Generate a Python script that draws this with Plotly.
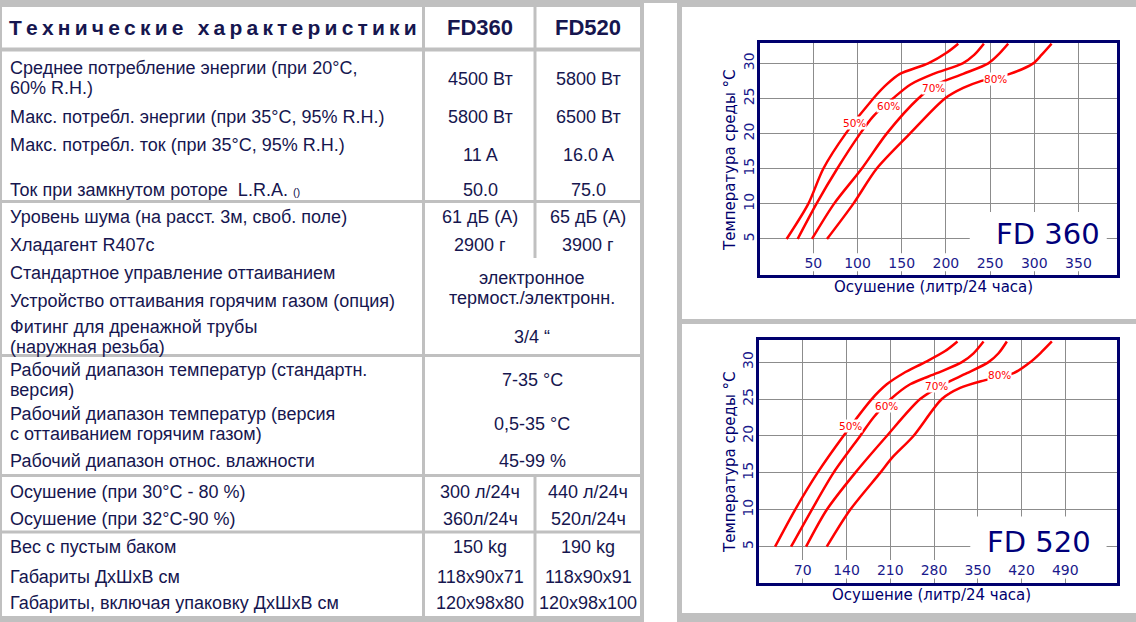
import plotly.graph_objects as go

# ---- table data ----
header_title = "Технические характеристики"
models = ["FD360", "FD520"]

row_labels = [
    "Среднее потребление энергии (при 20°С,<br>60% R.H.)",
    "Макс. потребл. энергии (при 35°С, 95% R.H.)",
    "Макс. потребл. ток (при 35°С, 95% R.H.)",
    "Ток при замкнутом роторе \u00a0L.R.A. <span style='font-size:11px'>()</span>",
    "Уровень шума (на расст. 3м, своб. поле)",
    "Хладагент R407c",
    "Стандартное управление оттаиванием",
    "Устройство оттаивания горячим газом (опция)",
    "Фитинг для дренажной трубы<br>(наружная резьба)",
    "Рабочий диапазон температур (стандартн.<br>версия)",
    "Рабочий диапазон температур (версия<br>с оттаиванием горячим газом)",
    "Рабочий диапазон относ. влажности",
    "Осушение (при 30°С - 80 %)",
    "Осушение (при 32°С-90 %)",
    "Вес с пустым баком",
    "Габариты ДхШхВ см",
    "Габариты, включая упаковку ДхШхВ см",
]
fd360_values = ["4500 Вт", "5800 Вт", "11 A", "50.0", "61 дБ (А)", "2900 г",
                "300 л/24ч", "360л/24ч", "150 kg", "118x90x71", "120x98x80"]
fd520_values = ["5800 Вт", "6500 Вт", "16.0 A", "75.0", "65 дБ (А)", "3900 г",
                "440 л/24ч", "520л/24ч", "190 kg", "118x90x91", "120x98x100"]
shared_values = ["электронное<br>термост./электронн.", "3/4 “", "7-35 °С",
                 "0,5-35 °С", "45-99 %"]

# ---- chart data (temperature vs. dehumidification per RH curve) ----
rh_labels = ["50%", "60%", "70%", "80%"]

fd360_x = [
    [19.8, 44.3, 61.3, 86.6, 117.9, 133, 148, 180, 200.8, 214],
    [32.3, 53.5, 77, 103, 118, 140, 160, 186, 219, 232, 243],
    [48.5, 73.4, 104.7, 133, 168.8, 189.5, 219.6, 248, 259, 270.5],
    [65.5, 95.2, 121.6, 159.3, 198.9, 219.6, 240.4, 272.4, 298.8, 308.2, 319.6],
]
fd360_y = [
    [5, 10, 15, 20, 25, 27, 28.5, 30, 31.5, 32.8],
    [5, 10, 15, 20, 22.5, 25, 27, 28.5, 30, 31.2, 32.8],
    [5, 10, 15, 20, 25, 27, 28.5, 30, 31.2, 32.8],
    [5, 10, 15, 20, 25, 26.5, 27.5, 28.5, 30, 31.2, 32.8],
]
fd360_label_x = [96.4, 134.8, 186.5, 256]
fd360_label_y = [21.5, 24, 26.5, 27.8]

fd520_x = [
    [25.7, 57.7, 93.5, 135, 180.4, 204.4, 231.1, 265.8, 297.8, 317.5],
    [51.3, 84.4, 119.1, 161.8, 183.1, 210.8, 241.8, 284.5, 324.5, 343.2, 359.2],
    [75.3, 108.4, 153.8, 204.4, 257.8, 295.1, 332.5, 367.2, 383.2, 396.5],
    [108.4, 145.8, 193.8, 212.4, 247.1, 292.5, 321.8, 359.2, 407.2, 433.9, 449.9, 468.5],
]
fd520_y = [
    [5, 10, 15, 20, 25, 27, 28.5, 30, 31.5, 32.8],
    [5, 10, 15, 20, 22.5, 25, 27, 28.5, 30, 31.2, 32.8],
    [5, 10, 15, 20, 25, 27, 28.5, 30, 31.2, 32.8],
    [5, 10, 15, 17, 20, 25, 26.5, 27.5, 28.5, 30, 31.2, 32.8],
]
fd520_label_x = [145.8, 203.4, 284.5, 384.8]
fd520_label_y = [21.4, 24.1, 26.8, 28.2]

y_ticks = [5, 10, 15, 20, 25, 30]
fd360_ticks = [50, 100, 150, 200, 250, 300, 350]
fd520_ticks = [70, 140, 210, 280, 350, 420, 490]

# ---- layout constants (pixels in a 1136x622 page) ----
W, H = 1136, 622
GRAY = "#c0c0c0"
NAVY_TXT = "#16164f"
NAVY = "#00006e"
BLUE_TXT = "#1a1a8c"
CHART_FONT = "DejaVu Sans"
TABLE_FONT = "Liberation Sans, Arial"
LINE_GAP = 20.5

label_rows_y = [78, 117, 145, 190, 217, 245, 273, 301, 337, 380, 424, 461, 492, 519, 547, 577, 603]
value_rows_y = [79, 117, 155, 190, 217, 245, 492, 519, 547, 577, 603]
shared_rows_y = [288, 337, 380, 424, 461]
col1_x, col2_x, shared_x = 480, 588, 532


def px(x):
    return x / W


def py(y):
    return 1 - y / H


fig = go.Figure()

# curves
for i, lab in enumerate(rh_labels):
    fig.add_trace(go.Scatter(x=fd360_x[i], y=fd360_y[i], mode="lines", name="FD360 " + lab,
                             line=dict(color="#ff0000", width=2.5, shape="spline", smoothing=0.8),
                             xaxis="x", yaxis="y", hoverinfo="skip"))
    fig.add_trace(go.Scatter(x=fd520_x[i], y=fd520_y[i], mode="lines", name="FD520 " + lab,
                             line=dict(color="#ff0000", width=2.5, shape="spline", smoothing=0.8),
                             xaxis="x2", yaxis="y2", hoverinfo="skip"))

shapes = []
annotations = []

# white panels
for x0, x1, y0, y1 in [(2, 640, 7, 616), (644, 677, 3, 622), (682, W, 7, 319), (682, W, 324, 613)]:
    shapes.append(dict(type="rect", xref="paper", yref="paper", x0=px(x0), x1=px(x1),
                       y0=py(y1), y1=py(y0), fillcolor="white", line=dict(width=0), layer="below"))


# table grid lines
def hline(y, w=3, x0=2, x1=640):
    shapes.append(dict(type="line", xref="paper", yref="paper", x0=px(x0), x1=px(x1),
                       y0=py(y), y1=py(y), line=dict(color=GRAY, width=w), layer="above"))


def vline(x, y0, y1, w=3):
    shapes.append(dict(type="line", xref="paper", yref="paper", x0=px(x), x1=px(x),
                       y0=py(y0), y1=py(y1), line=dict(color=GRAY, width=w), layer="above"))


hline(49.5, 4)
for y in [201.5, 355.5, 475.5, 532]:
    hline(y)
vline(423.5, 7, 616)
vline(535, 7, 258)
vline(535, 475, 616)


def table_text(txt, x, y, anchor="left", size=18, bold=False):
    lines = txt.split("<br>")
    top = y - LINE_GAP * (len(lines) - 1) / 2
    for k, line in enumerate(lines):
        annotations.append(dict(xref="paper", yref="paper", x=px(x), y=py(top + k * LINE_GAP),
                                xanchor=anchor, yanchor="middle", showarrow=False,
                                text="<b>" + line + "</b>" if bold else line,
                                font=dict(family=TABLE_FONT, size=size, color=NAVY_TXT)))


table_text("\u2009".join(header_title), 7, 28, size=21, bold=True)
for m, cx in zip(models, [col1_x, col2_x]):
    table_text(m, cx, 28, anchor="center", size=22, bold=True)
for txt, y in zip(row_labels, label_rows_y):
    table_text(txt, 8, y)
for a, b, y in zip(fd360_values, fd520_values, value_rows_y):
    table_text(a, col1_x, y, anchor="center")
    table_text(b, col2_x, y, anchor="center")
for txt, y in zip(shared_values, shared_rows_y):
    table_text(txt, shared_x, y, anchor="center")

# chart extras
charts = [
    dict(ax="", name="FD 360", lx=fd360_label_x, ly=fd360_label_y, box=(227, 382, 2.95, 8.85),
         band=(-10.3, 393.6, 0.4, 2.95), name_xy=(315, 5.7), ytitle=160, xtitle=(933, 287)),
    dict(ax="2", name="FD 520", lx=fd520_label_x, ly=fd520_label_y, box=(338, 556, 3.2, 9.1),
         band=(0, 572.7, 0.7, 3.2), name_xy=(448, 5.6), ytitle=462, xtitle=(931, 595)),
]
for c in charts:
    xr, yr = "x" + c["ax"], "y" + c["ax"]
    bx0, bx1, by0, by1 = c["band"]
    shapes.append(dict(type="rect", xref=xr, yref=yr, x0=bx0, x1=bx1, y0=by0, y1=by1,
                       fillcolor="white", line=dict(width=0), layer="between"))
    bx0, bx1, by0, by1 = c["box"]
    shapes.append(dict(type="rect", xref=xr, yref=yr, x0=bx0, x1=bx1, y0=by0, y1=by1,
                       fillcolor="white", line=dict(width=0), layer="between"))
    for lab, x, y in zip(rh_labels, c["lx"], c["ly"]):
        annotations.append(dict(xref=xr, yref=yr, x=x, y=y, text=lab, showarrow=False,
                                bgcolor="white", borderpad=0,
                                font=dict(family=CHART_FONT, size=10.5, color="#ff0000")))
    annotations.append(dict(xref=xr, yref=yr, x=c["name_xy"][0], y=c["name_xy"][1], text=c["name"],
                            showarrow=False, font=dict(family=CHART_FONT, size=29, color="#00007a")))
    annotations.append(dict(xref="paper", yref="paper", x=px(730), y=py(c["ytitle"]),
                            xanchor="center", yanchor="middle",
                            text="Температура среды °С", textangle=-90, showarrow=False,
                            font=dict(family=CHART_FONT, size=15, color=NAVY)))
    annotations.append(dict(xref="paper", yref="paper", x=px(c["xtitle"][0]), y=py(c["xtitle"][1]),
                            xanchor="center", yanchor="middle",
                            text="Осушение (литр/24 часа)", showarrow=False,
                            font=dict(family=CHART_FONT, size=15, color=NAVY)))

axis_common = dict(showgrid=True, gridcolor="#8c8c8c", gridwidth=1.3, zeroline=False,
                   showline=True, mirror=True, linecolor=NAVY, linewidth=3, ticks="",
                   tickfont=dict(family=CHART_FONT, size=14, color=BLUE_TXT), fixedrange=True)

fig.update_layout(
    width=W, height=H,
    margin=dict(l=0, r=0, t=0, b=0),
    paper_bgcolor=GRAY,
    plot_bgcolor="white",
    showlegend=False,
    shapes=shapes,
    annotations=annotations,
    xaxis=dict(domain=[px(760), px(1117)], range=[-10.3, 393.6], tickvals=fd360_ticks,
               ticklabelposition="inside", ticklabelstandoff=4, anchor="y", **axis_common),
    yaxis=dict(domain=[py(275), py(43)], range=[-0.13, 32.9], tickvals=y_ticks, tickangle=-90,
               ticklabelstandoff=-3, anchor="x", **axis_common),
    xaxis2=dict(domain=[px(759), px(1117)], range=[0, 572.7], tickvals=fd520_ticks,
                ticklabelposition="inside", ticklabelstandoff=5, anchor="y2", **axis_common),
    yaxis2=dict(domain=[py(583), py(340)], range=[0.08, 33.0], tickvals=y_ticks, tickangle=-90,
                ticklabelstandoff=-3, anchor="x2", **axis_common),
)

fig.write_html("out.html", config={"displayModeBar": False},
               post_script="document.body.style.margin='0px';")
